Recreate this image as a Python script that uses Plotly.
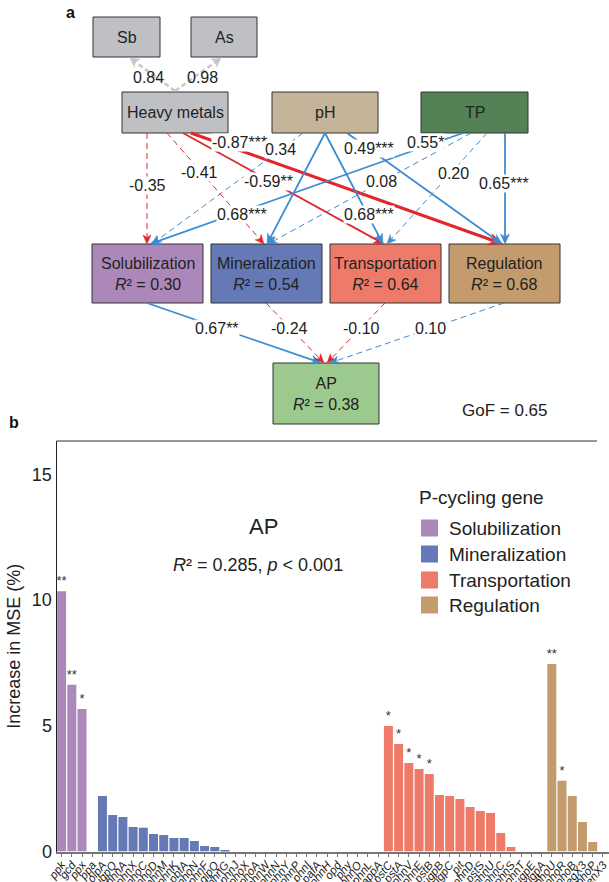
import numpy as np
import plotly.graph_objects as go

W, H = 609, 882
FONT = "Liberation Sans, Arial, Helvetica, sans-serif"

# ---------------- Panel b data ----------------
sol_genes = ["ppk", "gcd", "ppx", "ppa"]
sol_vals = [10.35, 6.63, 5.67, 0.0]
sol_sig = ["**", "**", "*", ""]

min_genes = ["olpA", "ugpQ", "phnA", "phnX", "phoC", "phoD", "phnM", "phnK", "pbfA", "phoN",
             "phnF", "glpQ", "phnG", "phnJ", "phoX", "phoA", "phnW", "phnN", "phnY", "phnP",
             "phnI", "pafA", "phnH", "opd", "phy", "phnO", "phnL", "appA"]
min_vals = [2.21, 1.45, 1.37, 0.97, 0.94, 0.70, 0.66, 0.54, 0.54, 0.42,
            0.22, 0.18, 0.06, 0.0, 0.0, 0.0, 0.0, 0.0, 0.0, 0.0,
            0.0, 0.0, 0.0, 0.0, 0.0, 0.0, 0.0, 0.0]
min_sig = [""] * len(min_genes)

trans_genes = ["pstC", "pstA", "phnV", "phnE", "pstB", "ugpB", "ugpC", "pit", "phnD", "pstS",
               "phnU", "phnC", "phnS", "phnT", "ugpE", "ugpA"]
trans_vals = [4.99, 4.28, 3.52, 3.28, 3.08, 2.25, 2.21, 2.09, 1.77, 1.61,
              1.53, 0.74, 0.18, 0.0, 0.0, 0.0]
trans_sig = ["*", "*", "*", "*", "*", "", "", "", "", "", "", "", "", "", "", ""]

reg_genes = ["phoU", "phoR", "phoB", "RegX3", "phoP", "SenX3"]
reg_vals = [7.46, 2.81, 2.21, 1.17, 0.38, 0.0]
reg_sig = ["**", "*", "", "", "", ""]

group_names = ["Solubilization", "Mineralization", "Transportation", "Regulation"]
group_colors = ["#AC87B9", "#6479B5", "#EE7B69", "#C49B6C"]

# ---------------- Panel a data ----------------
# (source, target, coefficient, significance)
paths = [
    ("HM", "Sol", -0.35, ""), ("HM", "Min", -0.41, ""), ("HM", "Trans", -0.59, "**"), ("HM", "Reg", -0.87, "***"),
    ("pH", "Sol", 0.34, ""), ("pH", "Min", 0.68, "***"), ("pH", "Trans", 0.68, "***"), ("pH", "Reg", 0.49, "***"),
    ("TP", "Sol", 0.55, "*"), ("TP", "Min", 0.08, ""), ("TP", "Trans", 0.20, ""), ("TP", "Reg", 0.65, "***"),
    ("Sol", "AP", 0.67, "**"), ("Min", "AP", -0.24, ""), ("Trans", "AP", -0.10, ""), ("Reg", "AP", 0.10, ""),
]
loadings = [("HM", "Sb", 0.84), ("HM", "As", 0.98)]
r2 = {"Sol": 0.30, "Min": 0.54, "Trans": 0.64, "Reg": 0.68, "AP": 0.38}
gof = 0.65

# ---------------- layout helpers (pixel -> paper) ----------------
def px(x):
    return x / W

def py(y):
    return 1 - y / H

nodes = {
    "Sb": ((93, 17, 160, 57), "#BFC0C4", "Sb"),
    "As": ((191, 17, 257, 57), "#BFC0C4", "As"),
    "HM": ((122, 92, 228, 133), "#BFC0C4", "Heavy metals"),
    "pH": ((272, 92, 378, 133), "#C4B49A", "pH"),
    "TP": ((421, 92, 528, 133), "#548156", "TP"),
    "Sol": ((92, 244, 203, 303), group_colors[0], "Solubilization"),
    "Min": ((211, 244, 322, 303), group_colors[1], "Mineralization"),
    "Trans": ((330, 244, 441, 303), group_colors[2], "Transportation"),
    "Reg": ((449, 244, 560, 303), group_colors[3], "Regulation"),
    "AP": ((273, 363, 379, 424), "#9CC98D", "AP"),
}

# geometry of each path: start point, end point (pixels), label position
path_geom = [
    ((147, 133), (147, 244), (147, 185)),
    ((167, 133), (264, 244), (199, 172)),
    ((183, 133), (384, 244), (268, 182)),
    ((191, 133), (503, 244), (239, 142)),
    ((303, 133), (152, 244), (280, 150)),
    ((325, 133), (267, 244), (242, 215)),
    ((325, 133), (383, 244), (369, 215)),
    ((347, 133), (502, 244), (369, 148)),
    ((463, 133), (150, 244), (425, 142)),
    ((471, 133), (268, 244), (381, 182)),
    ((487, 133), (387, 244), (453, 173)),
    ((505, 133), (505, 244), (504, 184)),
    ((147, 303), (321, 363), (217, 328)),
    ((266, 303), (324, 363), (289, 328)),
    ((385, 303), (327, 363), (361, 328)),
    ((504, 303), (330, 363), (430, 328)),
]
load_geom = [((175, 91), (130, 58), (148, 77)), ((175, 91), (221, 58), (202, 77))]

RED = "#E3262C"
BLUE = "#3C8CD2"
GRAY = "#C8C8C8"

shapes = []
annotations = []

def label(x, y, text, size, xanchor="center", yanchor="middle", **kw):
    annotations.append(dict(x=px(x), y=py(y), xref="paper", yref="paper", text=text,
                            showarrow=False, xanchor=xanchor, yanchor=yanchor,
                            font=dict(family=FONT, size=size, color=kw.pop("color", "#222")), **kw))

def arrow(p0, p1, color, width, dash, L, Wd):
    x0, y0 = p0
    x1, y1 = p1
    d = np.array([x1 - x0, y1 - y0], dtype=float)
    u = d / np.linalg.norm(d)
    perp = np.array([-u[1], u[0]])
    tip = np.array([x1, y1], dtype=float)
    base = tip - L * u
    notch = tip - 0.72 * L * u
    end = tip - 0.7 * L * u
    shapes.append(dict(type="line", xref="paper", yref="paper",
                       x0=px(x0), y0=py(y0), x1=px(end[0]), y1=py(end[1]),
                       line=dict(color=color, width=width, dash=dash)))
    pts = [tip, base + Wd * perp, notch, base - Wd * perp]
    path = "M " + " L ".join(f"{px(p[0]):.5f},{py(p[1]):.5f}" for p in pts) + " Z"
    shapes.append(dict(type="path", xref="paper", yref="paper", path=path,
                       fillcolor=color, line=dict(color=color, width=0.5)))

# boxes
for key, ((x0, y0, x1, y1), fill, name) in nodes.items():
    shapes.append(dict(type="rect", xref="paper", yref="paper",
                       x0=px(x0), y0=py(y0), x1=px(x1), y1=py(y1),
                       fillcolor=fill, line=dict(color="#333333", width=1)))
    if key in r2:
        txt = f"{name}<br><i>R</i>² = {r2[key]:.2f}"
    else:
        txt = name
    label((x0 + x1) / 2, (y0 + y1) / 2, txt, 16)

# loadings (Sb, As)
for (src, tgt, val), (p0, p1, lab) in zip(loadings, load_geom):
    arrow(p0, p1, GRAY, 2.5, "5px,3px", 9, 5)
    label(lab[0], lab[1], f"{val:.2f}", 16)

# structural paths
for (src, tgt, coef, sig), (p0, p1, lab) in zip(paths, path_geom):
    color = RED if coef < 0 else BLUE
    if sig:
        dash = "solid"
        width = 3.2 if abs(coef) > 0.8 else 1.8
        L, Wd = (14, 6) if abs(coef) > 0.8 else (10, 4.5)
    else:
        dash = "6px,4px"
        width = 1.0
        L, Wd = 9, 4
    arrow(p0, p1, color, width, dash, L, Wd)
    label(lab[0], lab[1], f"{coef:.2f}{sig}", 16, bgcolor="white", borderpad=0)

label(505, 410, f"GoF = {gof:.2f}", 17)
label(70, 13, "<b>a</b>", 16, color="#111")
label(14, 422, "<b>b</b>", 16, color="#111")

# ---------------- Panel b figure ----------------
fig = go.Figure()
all_genes = sol_genes + min_genes + trans_genes + reg_genes
groups = [(sol_genes, sol_vals, sol_sig), (min_genes, min_vals, min_sig),
          (trans_genes, trans_vals, trans_sig), (reg_genes, reg_vals, reg_sig)]
for (g, v, s), name, col in zip(groups, group_names, group_colors):
    fig.add_trace(go.Bar(x=g, y=v, name=name, marker=dict(color=col, line=dict(width=0)),
                         width=0.88, text=s, textposition="outside", constraintext="none",
                         cliponaxis=False, textfont=dict(family=FONT, size=13, color="#333"),
                         showlegend=False, hoverinfo="x+y"))

label(263, 526, "AP", 22)
label(258, 565, "<i>R</i>² = 0.285, <i>p</i> < 0.001", 18)

# manual legend
label(417, 497, "P-cycling gene", 19, xanchor="left")
leg_y = [528, 554, 580, 605]
for name, col, yy in zip(group_names, group_colors, leg_y):
    shapes.append(dict(type="rect", xref="paper", yref="paper", x0=px(421), x1=px(438),
                       y0=py(yy - 8.5), y1=py(yy + 8.5), fillcolor=col, line=dict(width=0)))
    label(447, yy, name, 19, xanchor="left")

# top frame line of panel b
shapes.append(dict(type="line", xref="paper", yref="paper", x0=px(56.5), x1=px(597),
                   y0=py(441), y1=py(441), line=dict(color="#333", width=1)))

fig.update_layout(
    width=W, height=H, margin=dict(l=0, r=0, t=0, b=0),
    paper_bgcolor="white", plot_bgcolor="white", template="none",
    barmode="overlay", showlegend=False,
    font=dict(family=FONT, color="#222"),
    shapes=shapes, annotations=annotations,
    xaxis=dict(domain=[56.5 / W, 1.0], range=[-0.5, 53.6], type="category",
               categoryorder="array", categoryarray=all_genes,
               tickmode="array", tickvals=all_genes, ticktext=all_genes,
               tickangle=-52, tickfont=dict(family=FONT, size=11.5, color="#222", style="italic"),
               ticks="outside", ticklen=3, tickcolor="#777", tickwidth=1,
               ticklabelstandoff=-3,
               showline=True, linecolor="#777", linewidth=2, showgrid=False, zeroline=False,
               automargin=False),
    yaxis=dict(domain=[1 - 851.5 / H, 0.5], range=[0, 16.33], tickvals=[0, 5, 10, 15],
               ticks="", tickfont=dict(family=FONT, size=18, color="#222"),
               showline=True, linecolor="#222", linewidth=1, showgrid=False, zeroline=False,
               title=dict(text="Increase in MSE (%)", font=dict(family=FONT, size=18, color="#222"),
                          standoff=6),
               automargin=False),
)

fig.write_html("out.html")
